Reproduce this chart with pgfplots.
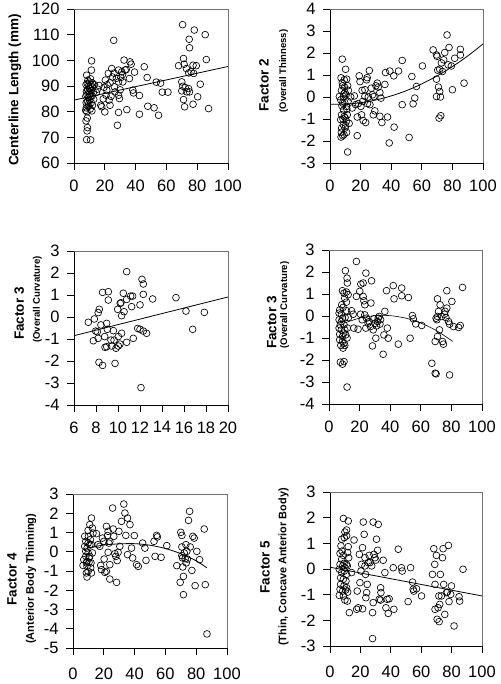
\documentclass[border=0pt]{standalone}
\usepackage{pgfplots}
\pgfplotsset{compat=1.18}
\usepackage{fontspec}
\setmainfont{Liberation Sans}
\pgfplotsset{
  panel/.style={scale only axis, height=154pt,
    axis lines=left, axis line style={-, black, line width=0.9pt},
    tick align=outside, major tick length=7pt,
    tick style={black, line width=0.8pt},
    ticklabel style={font=\fontsize{16.5}{16.5}\selectfont},
    xticklabel style={yshift=-6pt},
    yticklabel style={xshift=-4pt},
    /pgf/number format/assume math mode=true,
    clip=false,
    after end axis/.code={\draw[black!55, line width=0.6pt] (rel axis cs:0,1) -- (rel axis cs:1,1) -- (rel axis cs:1,0);}},
  pts/.style={only marks, mark=o, mark size=3.4pt, mark options={line width=0.65pt, black}},
  fit/.style={no marks, black, line width=0.8pt},
}
\tikzset{mainlab/.style={rotate=90, font=\fontsize{13.5}{14}\selectfont\bfseries, anchor=center}}
\newcommand{\sublab}[1]{\fontsize{#1}{#1}\selectfont\bfseries}
\begin{document}
\begin{tikzpicture}[x=1pt,y=1pt]
\useasboundingbox (0,0) rectangle (500,684);
% ---------------- Panel 1
\begin{axis}[panel, width=154pt, at={(74pt,521pt)}, anchor=south west,
  xmin=0, xmax=100, ymin=60, ymax=120, xtick={0,20,...,100}, ytick={60,70,...,120}]
\addplot[pts] coordinates {
(8.2,69.1)(10.8,69.0)(8.7,73.8)(8.5,72.5)(7.8,76.4)(8.6,77.5)(7.6,80.5)(8.0,81.5)(8.4,80.0)(9.2,82.0)(10.5,81.0)(11.6,80.3)(7.9,83.5)(8.8,84.0)(9.5,83.0)(10.2,84.5)(11.2,83.5)(12.0,82.5)(7.7,86.0)(8.5,86.5)(9.3,85.5)(10.0,86.8)(10.8,85.8)(11.8,86.2)(12.6,87.5)(8.1,88.0)(8.9,88.5)(9.7,87.8)(10.5,89.0)(11.3,88.3)(12.2,89.5)(7.8,90.5)(8.6,91.0)(9.4,90.0)(10.1,91.5)(11.0,90.6)(11.9,91.2)(9.0,92.2)(10.7,92.8)(8.2,94.2)(11.3,96.2)(11.4,99.8)(13.3,90.5)(12.8,84.8)(9.8,89.2)
(16.3,90.2)(17.4,82.5)(18.0,81.9)(20.0,79.9)(20.4,92.3)(21.3,88.4)(20.8,86.4)(22.3,94.9)(23.4,91.2)(22.8,84.5)(23.4,82.5)(24.5,96.8)(25.8,107.8)(26.2,89.7)(26.6,87.7)(28.2,74.7)(28.9,96.2)(28.9,91.6)(28.9,86.4)(29.5,85.1)(28.9,79.7)(30.4,93.3)(31.0,95.5)(31.7,91.6)(32.5,100.1)(33.2,96.2)(33.9,96.4)(34.3,80.8)(36.0,92.9)(36.4,99.4)(37.1,98.5)(38.2,88.4)(38.6,87.3)(39.3,95.4)(42.5,86.3)(42.5,79.0)(45.6,97.5)(47.5,93.3)(47.9,82.1)(52.0,81.5)(53.4,91.5)(54.9,78.6)(56.2,91.1)(57.3,87.6)(61.0,87.6)
(14.5,87.5)(15.2,88.8)(19.0,85.0)(19.5,89.5)(21.5,90.5)(24.0,86.0)(25.0,93.5)(27.5,93.0)(30.0,88.5)(31.5,94.5)(26.0,95.0)
(70.5,113.9)(78.1,111.8)(74.8,108.2)(75.0,104.9)(85.2,110.0)(71.1,100.7)(71.5,98.5)(67.9,97.9)(73.0,96.8)(74.5,95.1)(76.0,95.5)(77.3,98.1)(77.7,94.9)(79.4,97.9)(85.9,100.3)(70.0,91.6)(70.7,89.9)(70.0,88.1)(72.2,89.4)(73.3,87.7)(74.4,89.0)(75.0,87.7)(71.1,84.7)(71.8,81.9)(77.3,82.9)(80.3,85.8)(82.0,90.7)(87.4,81.2)
};
\addplot[fit] coordinates {(0,84.5)(100,97.6)};
\node[mainlab] at (axis description cs:-0.383,0.474) {Centerline Length (mm)};
\end{axis}
% ---------------- Panel 2
\begin{axis}[panel, width=153pt, at={(330pt,521pt)}, anchor=south west,
  xmin=0, xmax=100, ymin=-3, ymax=4, xtick={0,20,...,100}, ytick={-3,...,4}]
\addplot[pts] coordinates {
(8.0,1.72)(10.2,1.26)(7.2,0.87)(9.3,0.78)(10.9,0.81)(8.3,0.51)(11.5,0.51)(6.1,0.02)(7.0,-0.13)(8.7,0.02)(9.8,0.2)(8.3,-0.28)(10.9,-0.43)(7.6,-0.81)(9.3,-0.89)(11.3,-0.81)(7.0,-1.03)(8.7,-1.26)(10.2,-1.30)(9.8,-1.41)(7.6,-1.41)(10.9,-1.61)(9.1,-1.71)(7.2,-1.82)(8.3,-1.76)(11.5,-2.5)(8.0,0.65)(9.5,0.45)(10.5,0.1)(7.5,0.3)(11.8,-0.2)(8.9,-0.6)(10.0,-0.95)(7.8,-0.4)(12.0,0.3)(9.0,0.15)(10.7,-1.1)(8.5,-1.0)(11.0,-0.55)(12.5,-1.2)(9.6,-0.25)(7.4,-1.6)
(15.9,0.05)(16.7,-0.35)(17.8,-1.76)(17.8,-0.91)(19.1,0.96)(19.6,0.7)(20.2,-0.43)(20.6,-0.81)(21.3,-0.2)(21.7,-1.07)(22.8,0.33)(22.8,0.03)(23.3,-1.16)(23.9,0.78)(24.3,0.88)(25.0,0.0)(25.7,1.2)(26.1,-0.35)(27.8,0.1)(28.3,-0.81)(28.7,0.02)(29.3,-0.63)(30.0,0.51)(30.9,0.63)(31.5,0.45)(32.6,-0.88)(32.6,0.2)(33.3,-0.05)(33.9,-1.16)(35.9,0.57)(36.3,1.11)(37.6,-0.91)(38.7,-2.09)(39.1,1.18)(41.7,0.96)(41.9,-1.37)(44.8,1.18)(47.2,-0.35)(47.2,1.66)(51.7,-1.84)(53.5,0.93)(54.3,-0.31)(55.4,-0.05)(56.5,0.48)(60.4,1.41)(14.5,-0.5)(18.5,-0.3)(21.0,0.3)(24.5,-0.3)(27.0,0.4)(13.5,0.0)
(67.4,2.14)(69.6,1.91)(70.0,1.85)(76.5,2.82)(77.8,2.25)(75.0,2.02)(74.3,1.69)(77.2,1.46)(79.3,1.41)(72.8,1.55)(71.7,1.26)(73.5,1.16)(70.4,1.22)(85.2,2.17)(85.2,1.91)(81.5,1.76)(69.6,0.81)(70.9,0.45)(71.7,0.25)(69.6,0.02)(72.2,0.0)(80.0,0.33)(87.6,0.63)(71.3,-0.96)(72.4,-0.85)
};
\addplot[fit, smooth] coordinates {(0,-0.33)(10,-0.325)(20,-0.26)(30,-0.135)(40,0.049)(50,0.29)(60,0.596)(70,0.959)(80,1.381)(90,1.863)(100,2.41)};
\node[mainlab] at (axis description cs:-0.431,0.506) {Factor 2};
\node[rotate=90, anchor=center] at (axis description cs:-0.303,0.597) {\sublab{9.5}(Overall Thinness)};
\end{axis}
% ---------------- Panel 3
\begin{axis}[panel, width=154pt, at={(74pt,279pt)}, anchor=south west,
  xmin=6, xmax=20, ymin=-4, ymax=3, xtick={6,8,...,20}, ytick={-4,...,3}]
\addplot[pts] coordinates {
(7.3,-0.24)(7.85,-0.09)(8.3,0.35)(8.2,0.2)(7.97,-0.64)(8.12,-0.67)(7.76,-1.08)(8.2,-0.97)(8.27,-2.06)(8.6,1.12)(8.6,-2.2)(8.45,-0.36)(8.79,-0.89)(8.82,-1.38)(8.97,-0.29)(9.03,-0.56)(9.12,1.15)(9.12,0.77)(9.36,-1.05)(9.42,-1.32)(9.58,-0.62)(9.73,-2.11)(9.82,-1.42)(9.97,0.35)(10.03,-1.32)(10.27,0.65)(10.33,-0.74)(10.48,1.08)(10.55,0.24)(10.18,-1.23)(10.79,2.06)(10.79,0.8)(10.79,-1.15)(11.15,0.95)(11.24,0.47)(11.39,-0.97)(11.33,0.95)(11.79,-0.52)(12.0,0.55)(12.09,-3.21)(12.18,1.71)(12.3,1.5)(12.3,1.03)(12.0,-0.56)(12.6,-0.74)(13.15,0.82)(12.3,-0.64)(15.27,0.88)(16.18,0.27)(16.79,-0.56)(17.85,0.21)(10.03,-0.89)(9.64,-1.05)(8.97,-1.35)(10.33,0.06)(10.2,0.62)
};
\addplot[fit] coordinates {(6,-0.85)(20,0.91)};
\node[mainlab] at (axis description cs:-0.355,0.594) {Factor 3};
\node[rotate=90, anchor=center] at (axis description cs:-0.237,0.685) {\sublab{9.6}(Overall Curvature)};
\end{axis}
% ---------------- Panel 4
\begin{axis}[panel, width=153pt, at={(329pt,280pt)}, anchor=south west,
  xmin=0, xmax=100, ymin=-4, ymax=3, xtick={0,20,...,100}, ytick={-4,...,3}]
\addplot[pts] coordinates {
(7.4,-2.10)(8.8,-2.19)(9.8,-2.07)(11.8,-3.23)(10.7,2.06)(11.8,1.72)(12.0,1.50)(8.8,1.15)(9.8,1.04)(11.4,1.09)(12.5,0.97)(10.3,0.81)(11.4,0.63)(9.2,0.39)(7.0,0.28)(8.1,0.08)(11.4,0.24)(6.6,-0.17)(8.1,-0.25)(9.8,-0.40)(6.6,-0.55)(8.1,-0.63)(10.3,-0.63)(12.0,-0.55)(7.0,-0.83)(8.8,-0.93)(10.9,-0.86)(7.0,-1.08)(8.8,-1.16)(9.8,-1.24)(7.7,-1.34)(10.3,-1.34)(9.2,-1.46)(8.8,-0.10)(12.7,-0.07)(7.4,-0.4)(9.6,-0.78)(8.3,0.51)(6.6,0.13)(11.8,-1.0)(10.5,-0.07)
(14.7,0.24)(15.8,0.08)(16.2,-0.55)(17.9,2.48)(17.9,0.89)(19.0,-0.60)(20.1,1.12)(20.8,1.45)(20.6,0.08)(21.7,-0.17)(22.3,1.50)(22.3,0.89)(22.8,0.69)(23.4,0.51)(23.4,0.05)(24.1,1.95)(24.1,-0.55)(24.5,-0.10)(25.6,-0.33)(26.3,-0.25)(27.1,-0.48)(27.4,0.59)(27.8,1.60)(28.4,-1.36)(28.9,-0.63)(29.3,-0.13)(30.0,-0.33)(30.6,-1.01)(31.1,-0.45)(31.7,-0.25)(32.2,-0.10)(32.8,-0.02)(33.3,-0.37)(33.7,-0.17)(35.4,-1.74)(35.9,-0.86)(36.5,0.21)(37.6,1.15)(38.1,-0.55)(38.7,-1.01)(42.0,1.38)(42.5,0.78)(45.3,-1.28)(47.5,1.27)(47.5,0.92)(51.9,0.84)(53.0,-1.01)(54.5,0.02)(55.1,-0.13)(56.7,-0.36)(60.6,-0.43)
(67.2,-2.15)(69.4,-1.16)(70.0,-2.63)(69.4,-2.60)(70.9,0.78)(70.5,-0.17)(70.0,-0.10)(71.6,0.21)(72.2,-0.63)(70.9,-0.93)(72.6,0.51)(73.7,-0.02)(74.2,-1.16)(74.8,-1.28)(75.5,0.08)(75.9,0.21)(76.4,-0.07)(77.0,1.15)(77.0,0.36)(78.1,-0.25)(78.8,-0.37)(80.3,0.66)(78.8,-2.68)(81.4,-0.48)(84.7,-0.52)(85.8,-0.43)(87.3,1.30)(70.9,-0.02)
};
\addplot[fit, smooth, line width=0.6pt] coordinates {(10,-0.321)(20,-0.096)(30,0.016)(40,0.016)(50,-0.096)(60,-0.321)(70,-0.658)(81,-1.159)};
\node[mainlab] at (axis description cs:-0.375,0.529) {Factor 3};
\node[rotate=90, anchor=center] at (axis description cs:-0.29,0.643) {\sublab{9.6}(Overall Curvature)};
\end{axis}
% ---------------- Panel 5
\begin{axis}[panel, width=154pt, at={(73pt,36pt)}, anchor=south west,
  xmin=0, xmax=100, ymin=-5, ymax=3, xtick={0,20,...,100}, ytick={-5,...,3},
  xticklabel style={yshift=-3pt}]
\addplot[pts] coordinates {
(6.5,-0.71)(8.7,-0.58)(9.1,-1.31)(9.8,1.11)(10.9,1.41)(12.0,1.75)(12.6,1.23)(7.6,0.80)(8.3,0.54)(9.1,0.19)(9.8,-0.06)(10.9,-0.24)(8.3,-0.24)(9.1,-0.50)(10.4,-0.55)(11.5,-0.84)(9.8,-1.02)(8.7,-1.10)(12.0,-1.10)(10.9,0.37)(12.0,0.37)(13.0,0.97)(9.8,0.45)(8.3,0.02)(9.1,-0.76)(10.4,-0.32)(7.6,0.28)(11.3,0.63)(7.0,-0.41)(12.6,-0.06)(10.0,0.80)(11.7,-0.58)
(15.2,0.94)(16.3,0.37)(17.4,0.28)(18.0,-0.71)(18.5,-0.93)(19.1,0.71)(20.0,0.54)(20.2,-0.38)(20.7,-1.07)(21.7,1.32)(21.7,-1.02)(22.4,0.84)(22.8,1.06)(22.8,-0.03)(23.3,0.45)(23.9,0.54)(23.9,-0.67)(23.9,-1.42)(25.7,2.27)(26.1,1.18)(26.5,0.80)(27.2,-0.10)(27.8,-0.24)(28.3,-1.59)(28.7,-0.46)(29.3,-0.03)(29.8,1.06)(30.4,0.28)(31.5,1.58)(33.0,2.48)(33.7,2.01)(34.3,0.85)(35.4,-0.15)(35.4,1.75)(37.0,1.41)(38.0,0.19)(38.7,-0.32)(39.8,0.84)(41.3,-0.67)(42.4,-0.76)(45.2,0.45)(46.7,0.19)(47.4,-0.45)(52.6,0.54)(53.3,-0.24)(54.3,0.85)(54.8,0.77)(57.2,-0.29)(60.9,0.32)
(67.4,-0.72)(69.6,-1.59)(70.0,1.01)(70.7,0.85)(70.7,0.25)(70.7,-0.20)(71.1,-0.32)(71.3,-0.79)(71.7,-2.23)(71.7,-1.28)(72.2,-0.06)(72.8,-0.36)(73.3,0.37)(73.5,-0.58)(74.3,-0.38)(75.0,1.63)(75.7,2.10)(76.1,0.25)(77.2,-0.97)(77.8,0.80)(78.7,0.71)(79.3,-1.76)(80.4,0.02)(82.2,-0.41)(85.2,1.18)(85.9,-1.71)(73.9,0.02)(87.0,-4.27)
};
\addplot[fit, smooth] coordinates {(10,0.2)(20,0.35)(30,0.41)(40,0.42)(50,0.34)(60,0.17)(70,-0.1)(80,-0.47)(87,-0.84)};
\node[mainlab] at (axis description cs:-0.396,0.448) {Factor 4};
\node[rotate=90, anchor=center] at (axis description cs:-0.273,0.45) {\sublab{11}(Anterior Body Thinning)};
\end{axis}
% ---------------- Panel 6
\begin{axis}[panel, width=152pt, at={(330pt,38pt)}, anchor=south west,
  xmin=0, xmax=100, ymin=-3, ymax=3, xtick={0,20,...,100}, ytick={-3,...,3},
  xticklabel style={yshift=-3pt}]
\addplot[pts] coordinates {
(8.8,1.97)(12.0,1.87)(9.8,1.44)(10.9,1.52)(7.7,1.16)(9.4,1.22)(10.9,1.29)(7.2,0.90)(12.0,0.87)(6.6,0.61)(8.8,0.53)(11.6,0.64)(7.7,0.38)(9.2,0.22)(10.9,0.18)(6.6,0.18)(8.3,0.12)(9.8,0.05)(11.4,0.12)(6.1,-0.01)(7.7,-0.14)(9.4,-0.08)(10.9,-0.21)(7.0,-0.34)(8.8,-0.40)(10.5,-0.47)(7.0,-0.60)(9.2,-0.66)(10.9,-0.73)(6.6,-0.79)(8.3,-0.86)(10.3,-0.82)(11.6,-0.90)(6.1,-1.03)(8.8,-1.05)(9.8,-1.21)(11.4,-1.25)(12.7,-1.70)(12.3,0.44)(7.9,0.70)
(15.8,1.13)(14.2,-0.14)(17.5,-1.57)(18.6,-1.51)(17.9,-0.86)(19.3,0.57)(19.7,-0.53)(20.4,-0.08)(20.8,0.18)(21.4,-1.55)(21.4,0.83)(21.9,1.83)(22.5,1.35)(23.0,0.44)(23.0,0.12)(23.4,-0.21)(23.6,-1.12)(24.1,-0.92)(24.5,-0.60)(25.2,0.25)(25.8,0.53)(26.3,0.25)(27.4,0.12)(28.0,-1.70)(28.0,-2.71)(28.4,1.83)(28.4,-1.31)(28.9,0.57)(29.5,0.44)(30.2,0.35)(30.6,1.16)(31.3,0.73)(31.7,1.74)(32.4,-1.18)(33.3,-1.21)(33.3,-0.73)(33.5,-0.92)(35.0,0.34)(36.1,-0.14)(36.8,-1.51)(37.6,-1.18)(38.3,-1.73)(38.9,-1.16)(41.6,0.05)(42.0,-1.57)(44.9,0.77)(47.0,0.05)(47.5,-0.08)(51.4,-1.27)(53.0,0.05)(54.3,-0.51)(54.7,-0.79)(55.1,-0.86)(56.9,-0.77)(60.2,-1.05)
(67.4,-0.21)(68.3,0.79)(68.9,0.18)(69.1,-0.60)(69.1,-1.57)(70.0,0.53)(70.5,-1.96)(71.1,-1.51)(71.6,-1.05)(71.8,-2.05)(72.2,-1.38)(72.6,-0.21)(73.3,-1.05)(74.0,0.44)(74.4,0.79)(74.8,-0.60)(75.5,-1.77)(76.6,-0.92)(77.2,-0.90)(77.9,0.92)(78.3,-1.27)(79.4,-0.99)(79.9,-0.66)(81.6,-2.22)(84.9,-1.08)(85.3,-1.25)(87.5,-0.01)
};
\addplot[fit] coordinates {(0,0.07)(100,-1.05)};
\node[mainlab] at (axis description cs:-0.428,0.513) {Factor 5};
\node[rotate=90, anchor=center] at (axis description cs:-0.305,0.513) {\sublab{10.9}(Thin, Concave Anterior Body)};
\end{axis}
\end{tikzpicture}
\end{document}
